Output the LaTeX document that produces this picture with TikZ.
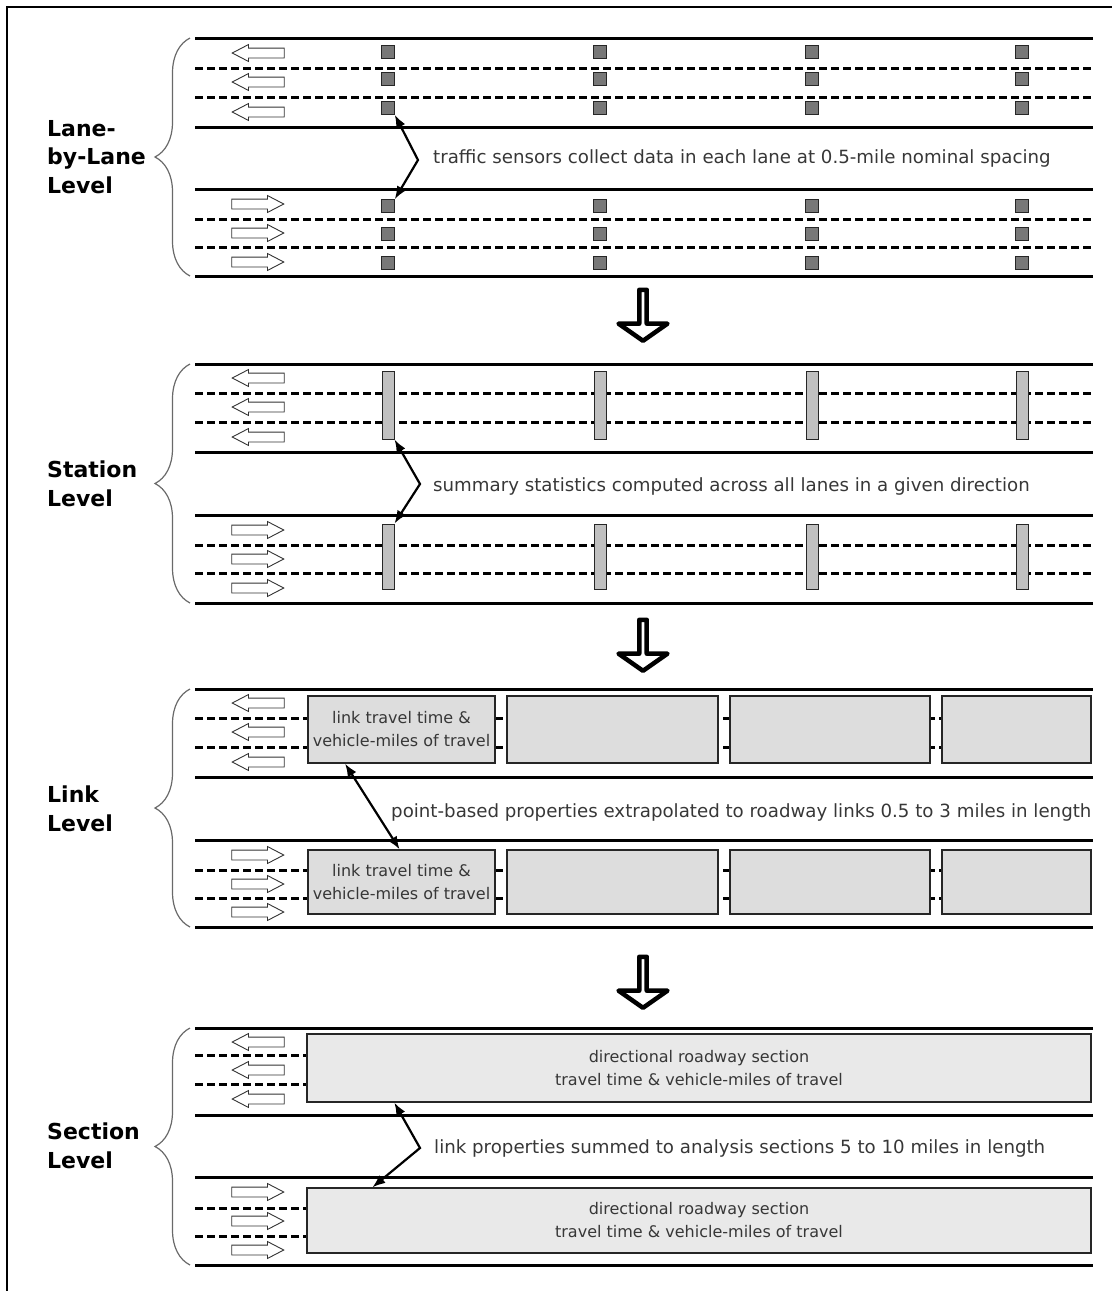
\documentclass[tikz,border=0pt]{standalone}
\usepackage{fontspec}
\setmainfont{DejaVu Sans}
\usepackage{tikz}
\usetikzlibrary{arrows.meta,positioning,calc,shapes.arrows,decorations.pathreplacing}
\definecolor{sensorgray}{RGB}{120,120,120}
\definecolor{bargray}{RGB}{192,192,192}
\definecolor{linkgray}{RGB}{221,221,221}
\definecolor{secgray}{RGB}{233,233,233}
\definecolor{textdark}{RGB}{55,55,55}
\definecolor{bracegray}{RGB}{105,105,105}

\tikzset{
  road/.style={line width=3pt},
  lane/.style={line width=3pt,dash pattern=on 8pt off 4pt},
  laneleft/.style={single arrow,draw=black!80,fill=white,line width=0.9pt,minimum height=52pt,minimum width=16pt,
    single arrow head extend=3.5pt,single arrow tip angle=55,inner xsep=0pt,inner ysep=4.5pt,shape border rotate=180},
  laneright/.style={laneleft,shape border rotate=0},
  sensor/.style={draw=black!85,fill=sensorgray,line width=1pt,minimum size=12.5pt,inner sep=0pt},
  stationbar/.style={draw=black!85,fill=bargray,line width=1pt,minimum width=12pt,inner sep=0pt},
  linkbox/.style={draw=black!85,fill=linkgray,line width=1.2pt,inner sep=0pt,align=center,text=textdark,
    font=\fontsize{16}{23}\selectfont},
  secbox/.style={linkbox,fill=secgray},
  zig/.style={line width=2.2pt,{Latex[length=13pt,width=10pt]}-{Latex[length=13pt,width=10pt]}},
  note/.style={anchor=west,inner sep=0pt,text=textdark,font=\fontsize{18.2}{22}\selectfont},
  levelname/.style={anchor=west,inner sep=0pt,align=left,font=\fontsize{22}{28.5}\selectfont\bfseries},
  lvlbrace/.style={draw=bracegray,line width=1.2pt,decorate,decoration={brace,amplitude=35pt}},
  levelstep/.style={single arrow,draw=black,fill=white,line width=4.5pt,line join=round,minimum height=51pt,
    minimum width=49pt,single arrow head extend=12.5pt,single arrow tip angle=110,inner sep=0pt,shape border rotate=270}
}

\begin{document}
\begin{tikzpicture}[x={(1pt,0pt)},y={(0pt,-1pt)}]
\useasboundingbox (0,0) rectangle (1112,1291);
% frame
\draw[line width=2.5pt] (7,1291) -- (7,7) -- (1112,7);

% lane-by-lane level
\foreach \y in {38,127,189,276} \draw[road] (195,\y) -- (1093,\y);
\foreach \y in {68,97,219,247} \draw[lane] (195,\y) -- (1093,\y);
\foreach \y [count=\i] in {53,82,112} \node[laneleft] (lw1-\i) at (263,\y) {};
\foreach \y [count=\i] in {204,233,262} \node[laneright] (le1-\i) at (253,\y) {};
\foreach \x [count=\c] in {388,600,812,1022} {
  \foreach \y [count=\r] in {52,79,108,206,234,263}
    \node[sensor] (sn-\c-\r) at (\x,\y) {};
}
\coordinate (bend1) at (418,160);
\draw[zig] (sn-1-3.south east) -- (bend1) -- (sn-1-4.north east);
\node[note] (nt1) at (433,158) {traffic sensors collect data in each lane at 0.5-mile nominal spacing};
\draw[lvlbrace] (190,276) -- (190,38);
\node[levelname] (lv1) at (47,157) {Lane-\\by-Lane\\Level};

\node[levelstep] (dn1) at (643,314) {};

% station level
\foreach \y in {364,452,515,603} \draw[road] (195,\y) -- (1093,\y);
\foreach \y in {393,422,545,573} \draw[lane] (195,\y) -- (1093,\y);
\foreach \y [count=\i] in {378,407,437} \node[laneleft] (lw2-\i) at (263,\y) {};
\foreach \y [count=\i] in {530,559,588} \node[laneright] (le2-\i) at (253,\y) {};
\foreach \x [count=\c] in {388,600,812,1022} {
  \node[stationbar,minimum height=68pt] (st-\c-1) at (\x,405) {};
  \node[stationbar,minimum height=65pt] (st-\c-2) at (\x,556.5) {};
}
\coordinate (bend2) at (420,484);
\draw[zig] (st-1-1.south east) -- (bend2) -- (st-1-2.north east);
\node[note] (nt2) at (433,486) {summary statistics computed across all lanes in a given direction};
\draw[lvlbrace] (190,603) -- (190,364);
\node[levelname] (lv2) at (47,484) {Station\\Level};

\node[levelstep] (dn2) at (643,644) {};

% link level
\foreach \y in {689,777,840,927} \draw[road] (195,\y) -- (1093,\y);
\foreach \y in {718,747,870,898} \draw[lane] (195,\y) -- (1093,\y);
\foreach \y [count=\i] in {703,732,762} \node[laneleft] (lw3-\i) at (263,\y) {};
\foreach \y [count=\i] in {855,884,912} \node[laneright] (le3-\i) at (253,\y) {};
\foreach \x/\w [count=\c] in {401.5/187,612.5/211,830/200,1016.5/149} {
  \node[linkbox,minimum width=\w pt,minimum height=67pt] (lk-\c-1) at (\x,729.5) {};
  \node[linkbox,minimum width=\w pt,minimum height=64pt] (lk-\c-2) at (\x,882) {};
}
\node[linkbox,fill=none,draw=none] (lt1) at (lk-1-1) {link travel time \&\\vehicle-miles of travel};
\node[linkbox,fill=none,draw=none] (lt2) at (lk-1-2) {link travel time \&\\vehicle-miles of travel};
\draw[zig] ($(lk-1-1.south west)!0.2!(lk-1-1.south east)$) -- ($(lk-1-2.north west)!0.49!(lk-1-2.north east)$);
\node[note] (nt3) at (391,812) {point-based properties extrapolated to roadway links 0.5 to 3 miles in length};
\draw[lvlbrace] (190,927) -- (190,689);
\node[levelname] (lv3) at (47,809) {Link\\Level};

\node[levelstep] (dn3) at (643,981) {};

% section level
\foreach \y in {1028,1115,1177,1265} \draw[road] (195,\y) -- (1093,\y);
\foreach \y in {1055,1084,1208,1236} \draw[lane] (195,\y) -- (1093,\y);
\foreach \y [count=\i] in {1042,1070,1099} \node[laneleft] (lw4-\i) at (263,\y) {};
\foreach \y [count=\i] in {1192,1221,1250} \node[laneright] (le4-\i) at (253,\y) {};
\node[secbox,minimum width=784pt,minimum height=68pt] (sc-1) at (699,1068) {directional roadway section\\travel time \& vehicle-miles of travel};
\node[secbox,minimum width=784pt,minimum height=65pt] (sc-2) at (699,1220.5) {directional roadway section\\travel time \& vehicle-miles of travel};
\coordinate (bend4) at (420,1148);
\draw[zig] ($(sc-1.south west)!0.112!(sc-1.south east)$) -- (bend4) -- ($(sc-2.north west)!0.084!(sc-2.north east)$);
\node[note] (nt4) at (434,1148) {link properties summed to analysis sections 5 to 10 miles in length};
\draw[lvlbrace] (190,1265) -- (190,1028);
\node[levelname] (lv4) at (47,1146) {Section\\Level};
\end{tikzpicture}
\end{document}
